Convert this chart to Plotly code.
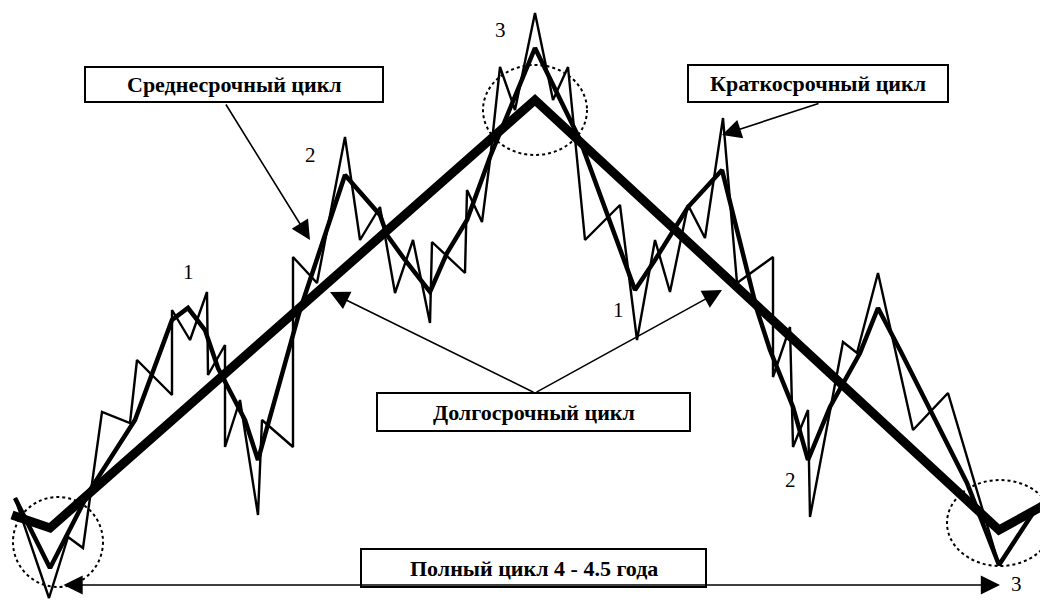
import plotly.graph_objects as go

long_x = [12, 50, 535, 999, 1048]
long_y = [515, 528, 100, 530, 503]

mid_x = [15, 50, 90, 135, 172, 188, 205, 218, 245, 258, 300, 345, 380, 387, 405, 430, 447, 467, 490, 535,
         580, 635, 655, 688, 722, 757, 770, 793, 808, 830, 860, 878, 900, 920, 967, 999, 1033, 1048]
mid_y = [498, 568, 490, 420, 320, 308, 330, 368, 420, 460, 310, 175, 215, 235, 260, 292, 253, 220, 157, 48,
         140, 290, 260, 207, 170, 310, 350, 407, 460, 407, 353, 308, 350, 390, 483, 565, 513, 497]

short_x = [15, 49, 68, 83, 88, 102, 130, 137, 172, 172, 190, 207, 208, 225, 225, 240, 258, 262, 293, 293,
           317, 345, 360, 380, 395, 413, 430, 432, 465, 467, 482, 490, 500, 515, 535, 553, 568, 585, 620,
           637, 655, 670, 688, 705, 723, 737, 773, 773, 790, 793, 808, 810, 843, 857, 878, 913, 948, 999,
           1033, 1048]
short_y = [498, 598, 537, 548, 512, 412, 423, 360, 395, 310, 340, 292, 375, 345, 447, 400, 515, 420, 447, 257,
           283, 137, 240, 207, 293, 240, 323, 242, 273, 190, 222, 160, 67, 110, 13, 100, 67, 240, 205,
           340, 240, 292, 205, 238, 118, 283, 257, 377, 327, 447, 410, 517, 342, 353, 273, 430, 393, 565,
           513, 497]

box_labels = ["Среднесрочный цикл", "Краткосрочный цикл", "Долгосрочный цикл", "Полный цикл 4 - 4.5 года"]
wave_labels = ["1", "2", "3", "1", "2", "3"]

fig = go.Figure()
fig.add_trace(go.Scatter(x=short_x, y=short_y, mode="lines", line=dict(color="black", width=2.4)))
fig.add_trace(go.Scatter(x=mid_x, y=mid_y, mode="lines", line=dict(color="black", width=4.5)))
fig.add_trace(go.Scatter(x=long_x, y=long_y, mode="lines", line=dict(color="black", width=9)))

shapes = []
# dashed ellipses
for (cx, cy, rx, ry) in [(58, 542, 45, 45), (535, 110, 52, 45), (1000, 523, 53, 43)]:
    shapes.append(dict(type="circle", xref="x", yref="y", x0=cx - rx, x1=cx + rx, y0=cy - ry, y1=cy + ry,
                       line=dict(color="black", width=2, dash="dot"), layer="above"))
# label boxes
boxes = [(85, 67, 383, 102), (688, 65, 948, 102), (377, 393, 690, 431), (361, 549, 706, 587)]
for (x0, y0, x1, y1) in boxes:
    shapes.append(dict(type="rect", xref="x", yref="y", x0=x0, x1=x1, y0=y0, y1=y1,
                       line=dict(color="black", width=2), fillcolor="white", layer="above"))

font_box = dict(family="Liberation Serif", size=22, color="black")
ann = []
for (x0, y0, x1, y1), t in zip(boxes, box_labels):
    ann.append(dict(x=(x0 + x1) / 2, y=(y0 + y1) / 2, xref="x", yref="y", text="<b>" + t + "</b>",
                    showarrow=False, font=font_box))

for (x, y), t in zip([(188, 272), (310, 155), (500, 30), (618, 310), (790, 480), (1016, 584)], wave_labels):
    ann.append(dict(x=x, y=y, xref="x", yref="y", text=t, showarrow=False,
                    font=dict(family="Liberation Serif", size=21, color="black")))

arrows = [((310, 240), (225, 103)), ((722, 135), (820, 103)), ((330, 292), (535, 393)), ((722, 290), (535, 393))]
for (tip, tail) in arrows:
    ann.append(dict(x=tip[0], y=tip[1], ax=tail[0], ay=tail[1], xref="x", yref="y", axref="x", ayref="y",
                    text="", showarrow=True, arrowhead=2, arrowsize=2.4, arrowwidth=1.6, arrowcolor="black"))
# full-cycle double arrow
ann.append(dict(x=1000, y=585, ax=62, ay=585, xref="x", yref="y", axref="x", ayref="y", text="",
                showarrow=True, arrowhead=2, startarrowhead=2, arrowside="end+start", arrowsize=2.4,
                startarrowsize=2.4, arrowwidth=1.6, arrowcolor="black"))

# the page body adds an 8px offset, so the figure covers data 8..1048 / 8..601
fig.update_layout(
    width=1040, height=593, margin=dict(l=0, r=0, t=0, b=0),
    paper_bgcolor="white", plot_bgcolor="white", showlegend=False,
    xaxis=dict(range=[8, 1048], visible=False, fixedrange=True),
    yaxis=dict(range=[601, 8], visible=False, fixedrange=True),
    shapes=shapes, annotations=ann,
)
fig.write_html("out.html")
